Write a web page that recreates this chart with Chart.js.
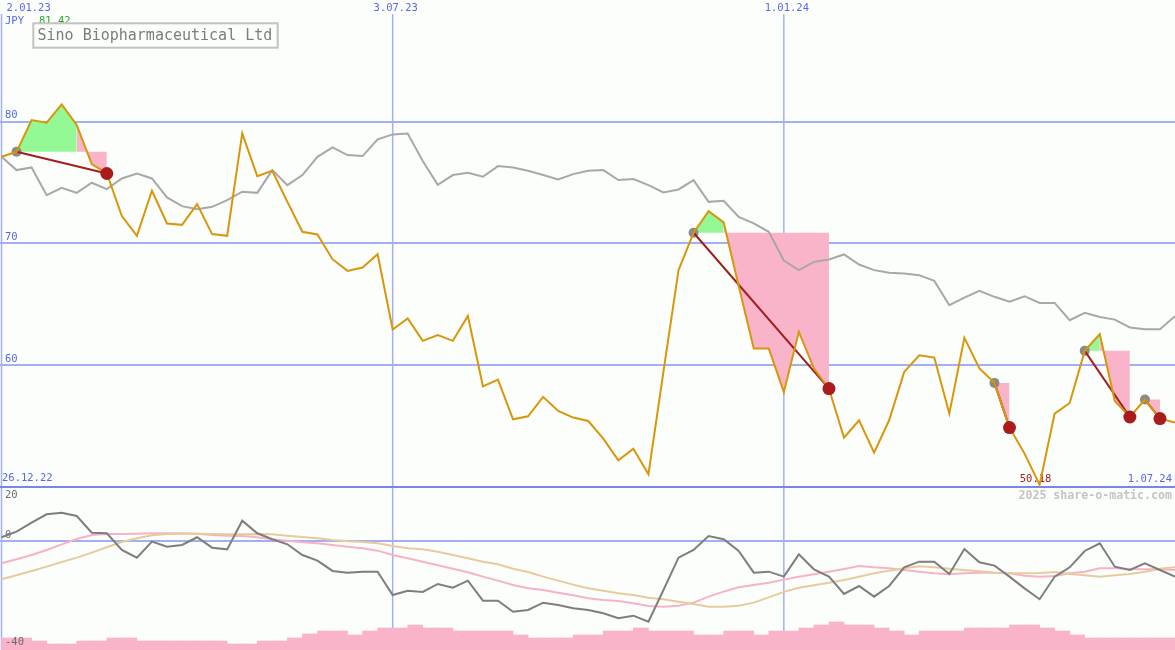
<!DOCTYPE html>
<html>
<head>
    <title>Sino Biopharmaceutical Ltd</title>
    <script src="https://cdn.jsdelivr.net/npm/chart.js"></script>
    <style>
        body {
            margin: 0;
            padding: 0;
            background-color: #fbfefb;
            overflow: hidden;
        }
        .chart-container {
            position: relative;
            width: 1175px;
            height: 650px;
        }
    </style>
</head>
<body>
    <div class="chart-container">
        <canvas id="shareChart" width="1175" height="650"></canvas>
    </div>

    <script>
        // weekly closes in JPY, week 0 = 2.01.23
        const price = [
            77.12, 77.53, 80.14, 79.92, 81.42, 79.73, 76.52, 75.75, 72.25, 70.63,
            74.33, 71.64, 71.53, 73.23, 70.77, 70.63, 79.04, 75.53, 75.97, 73.42,
            70.96, 70.74, 68.71, 67.75, 68.03, 69.12, 62.93, 63.84, 62.00, 62.47,
            62.00, 64.05, 58.27, 58.82, 55.56, 55.81, 57.40, 56.25, 55.70, 55.42,
            53.97, 52.19, 53.15, 51.04, 59.50, 67.81, 70.88, 72.66, 71.73, 66.50,
            61.37, 61.37, 57.81, 62.74, 59.73, 58.08, 54.05, 55.48, 52.82, 55.48,
            59.45, 60.82, 60.63, 56.03, 62.25, 59.73, 58.55, 54.88, 52.74, 50.18,
            56.03, 56.90, 61.18, 62.55, 57.07, 55.75, 57.18, 55.62, 55.29
        ];
        // relative strength line (grey)
        const relative = [
            77.12, 76.03, 76.25, 73.97, 74.58, 74.16, 74.99, 74.47, 75.34, 75.75,
            75.34, 73.78, 73.07, 72.82, 73.01, 73.56, 74.25, 74.16, 76.03, 74.79,
            75.62, 77.12, 77.89, 77.26, 77.18, 78.55, 78.96, 79.04, 76.77, 74.82,
            75.62, 75.81, 75.48, 76.36, 76.25, 75.97, 75.62, 75.26, 75.70, 75.97,
            76.03, 75.21, 75.29, 74.79, 74.19, 74.44, 75.21, 73.42, 73.51, 72.19,
            71.65, 70.96, 68.60, 67.81, 68.49, 68.68, 69.10, 68.27, 67.81, 67.59,
            67.53, 67.40, 66.93, 64.93, 65.56, 66.11, 65.62, 65.21, 65.67, 65.12,
            65.12, 63.70, 64.30, 63.97, 63.75, 63.10, 62.96, 62.96, 64.03
        ];
        // lower panel oscillators
        const momentum = [
            1.49, 3.55, 6.87, 9.94, 10.55, 9.33, 3.18, 2.96, -3.18, -6.01,
            -0.12, -1.96, -1.35, 1.49, -2.33, -2.95, 7.60, 2.96, 0.75, -1.09,
            -5.03, -7.12, -10.90, -11.53, -11.16, -11.16, -19.75, -18.17, -18.65, -15.70,
            -17.06, -14.48, -21.84, -21.84, -25.90, -25.27, -22.58, -23.43, -24.65, -25.27,
            -26.49, -28.33, -27.36, -29.57, -17.90, -6.01, -3.18, 1.97, 0.75, -3.55,
            -11.53, -11.16, -13.00, -4.78, -10.30, -13.00, -19.38, -16.44, -20.37, -16.44,
            -9.56, -7.49, -7.49, -12.00, -2.82, -7.72, -8.95, -13.00, -17.30, -21.30,
            -13.00, -9.56, -3.55, -0.72, -9.33, -10.55, -8.10, -10.55, -13.00
        ];
        const avgFast = [
            -8.09, -6.62, -5.03, -3.19, -1.10, 0.86, 2.33, 2.70, 2.70, 2.82,
            2.95, 2.95, 2.95, 2.82, 2.33, 2.09, 1.97, 1.48, 0.74, 0.25,
            -0.36, -0.73, -1.35, -1.96, -2.57, -3.43, -5.03, -6.25, -7.48, -8.83,
            -10.06, -11.41, -13.00, -14.47, -16.07, -17.29, -17.91, -18.89, -19.87, -20.98,
            -21.59, -21.96, -22.82, -23.80, -24.04, -23.68, -22.57, -20.36, -18.52, -16.93,
            -16.07, -15.21, -14.10, -13.00, -12.14, -11.16, -10.18, -9.08, -9.57, -9.93,
            -10.55, -11.16, -11.77, -12.14, -11.77, -11.53, -11.53, -11.77, -12.63, -13.00,
            -12.76, -11.77, -11.16, -9.93, -9.93, -10.18, -10.30, -10.30, -10.55
        ];
        const avgSlow = [
            -13.98, -12.51, -10.92, -9.32, -7.60, -6.01, -4.17, -2.20, -0.24, 1.11,
            2.21, 2.70, 2.82, 2.82, 2.70, 2.58, 2.58, 2.70, 2.58, 2.09,
            1.60, 1.11, 0.49, 0.00, -0.24, -0.73, -1.71, -2.57, -2.94, -3.80,
            -5.03, -6.25, -7.48, -8.46, -10.06, -11.28, -13.00, -14.47, -15.94, -17.29,
            -18.15, -19.13, -19.75, -20.73, -21.34, -22.20, -23.06, -24.04, -24.04, -23.68,
            -22.57, -20.61, -18.60, -17.10, -16.19, -15.21, -14.23, -13.00, -11.77, -10.79,
            -9.93, -9.20, -9.57, -10.06, -10.55, -11.04, -11.53, -11.77, -11.77, -11.65,
            -11.28, -12.02, -12.51, -13.00, -12.51, -12.02, -11.16, -10.06, -9.57
        ];
        // traded volume between consecutive weeks (relative units)
        const volume = [
            12, 12, 9, 6, 6, 9, 9, 12, 12, 9,
            9, 9, 9, 9, 9, 6, 6, 9, 9, 12,
            16, 19, 19, 15, 19, 22, 22, 25, 22, 22,
            19, 19, 19, 19, 15, 12, 12, 12, 15, 15,
            19, 19, 22, 19, 19, 19, 15, 15, 19, 19,
            15, 19, 19, 22, 25, 28, 25, 25, 22, 19,
            15, 19, 19, 19, 22, 22, 22, 25, 25, 22,
            19, 15, 12, 12, 12, 12, 12, 12
        ];

        const dateTicks = [0, 26, 52];
        const dateLabels = ['2.01.23', '3.07.23', '1.01.24'];
        const priceTicks = [80, 70, 60];
        const firstDate = '26.12.22';
        const lastDate = '1.07.24';

        // buy / sell signals (week index)
        const sigStart = [1, 46, 66, 72, 76];
        const sigTop = [5, 48, null, 73, null];
        const sigEnd = [7, 55, 67, 75, 77];

        const BLUE = '#5a66ee';
        const FONT = '"DejaVu Sans Mono", "Liberation Mono", monospace';

        const pts = arr => arr.map((v, i) => ({ x: i, y: v }));
        const pricePts = pts(price);

        function fillSet(a, b, level, color) {
            return {
                data: pricePts.slice(a, b + 1),
                fill: { value: level },
                backgroundColor: color,
                borderColor: 'rgba(0,0,0,0)',
                borderWidth: 0,
                pointRadius: 0,
                yAxisID: 'y',
                order: 5
            };
        }

        const fillSets = [];
        const signalLines = [];
        sigStart.forEach((s, k) => {
            const level = price[s];
            const top = sigTop[k];
            if (top !== null) fillSets.push(fillSet(s, top, level, '#94f894'));
            fillSets.push(fillSet(top !== null ? top : s, sigEnd[k], level, '#f9b4ca'));
            signalLines.push({
                data: [pricePts[s], pricePts[sigEnd[k]]],
                borderColor: '#a21e1e',
                borderWidth: 2,
                pointRadius: 0,
                yAxisID: 'y',
                order: 2
            });
        });

        const overlay = {
            id: 'overlay',
            beforeDraw(chart) {
                const ctx = chart.ctx;
                ctx.save();
                ctx.fillStyle = '#fbfefb';
                ctx.fillRect(0, 0, chart.width, chart.height);
                ctx.restore();
            },
            beforeDatasetsDraw(chart) {
                const { ctx, scales: { x, y, y2 } } = chart;
                const W = chart.width, H = chart.height;
                const line = (x1, y1, x2, y2_) => {
                    ctx.beginPath(); ctx.moveTo(x1, y1); ctx.lineTo(x2, y2_); ctx.stroke();
                };
                ctx.save();

                // horizontal grid
                ctx.strokeStyle = '#a2b0f2';
                ctx.lineWidth = 2;
                priceTicks.forEach(v => {
                    const py = Math.round(y.getPixelForValue(v));
                    line(0, py, W, py);
                });
                const zeroY = Math.round(y2.getPixelForValue(0));
                line(0, zeroY, W, zeroY);

                // vertical date lines
                ctx.lineWidth = 1.5;
                dateTicks.forEach(d => {
                    const px = x.getPixelForValue(d);
                    line(px, 14, px, H);
                });

                // panel divider
                const divY = Math.round(y.getPixelForValue(50));
                ctx.strokeStyle = '#7686ee';
                ctx.lineWidth = 2;
                line(0, divY, W, divY);

                // texts
                ctx.textBaseline = 'middle';
                ctx.font = '10.5px ' + FONT;
                ctx.fillStyle = BLUE;
                dateTicks.forEach((d, k) => {
                    const px = x.getPixelForValue(d);
                    if (k === 0) {
                        ctx.textAlign = 'left';
                        ctx.fillText(dateLabels[k], px + 5, 8);
                    } else {
                        ctx.textAlign = 'center';
                        ctx.fillText(dateLabels[k], px + 3, 8);
                    }
                });
                ctx.textAlign = 'left';
                ctx.fillText('JPY', 5, 21);
                priceTicks.forEach(v => {
                    ctx.fillText(String(v), 5, y.getPixelForValue(v) - 6);
                });
                ctx.fillText(firstDate, 2, divY - 9);
                ctx.textAlign = 'right';
                ctx.fillText(lastDate, W - 3, divY - 8);

                const maxV = Math.max(...price);
                ctx.textAlign = 'left';
                ctx.fillStyle = '#26a626';
                ctx.fillText(maxV.toFixed(2), 39, 21);

                const minV = Math.min(...price);
                const minI = price.indexOf(minV);
                ctx.textAlign = 'center';
                ctx.fillStyle = '#a02020';
                ctx.fillText(minV.toFixed(2), x.getPixelForValue(minI) - 4, divY - 8);

                ctx.textAlign = 'right';
                ctx.fillStyle = '#c4c4c4';
                ctx.font = 'bold 11.6px ' + FONT;
                ctx.fillText('2025 share-o-matic.com', W - 3, divY + 9);

                ctx.textAlign = 'left';
                ctx.fillStyle = '#6a6a6a';
                ctx.font = '10.5px ' + FONT;
                ctx.fillText('20', 5, divY + 8);
                ctx.fillText('0', 5, zeroY - 6);

                // title box
                ctx.strokeStyle = '#c2c2c2';
                ctx.lineWidth = 2;
                ctx.strokeRect(33.3, 23.3, 244.4, 24.4);
                ctx.fillStyle = '#7c7c7c';
                ctx.font = '15px ' + FONT;
                ctx.fillText('Sino Biopharmaceutical Ltd', 37.5, 36);

                ctx.restore();
            },
            afterDatasetsDraw(chart) {
                const ctx = chart.ctx;
                ctx.save();
                ctx.textBaseline = 'middle';
                ctx.textAlign = 'left';
                ctx.fillStyle = '#6a6a6a';
                ctx.font = '10.5px ' + FONT;
                ctx.fillText('-40', 5, chart.height - 8);
                ctx.restore();
            }
        };

        const ctx = document.getElementById('shareChart').getContext('2d');
        new Chart(ctx, {
            type: 'line',
            data: {
                datasets: [
                    {
                        // sell points
                        data: sigEnd.map(i => pricePts[i]),
                        showLine: false,
                        pointRadius: 6.5,
                        pointBackgroundColor: '#a81c1c',
                        pointBorderWidth: 0,
                        yAxisID: 'y',
                        order: 0
                    },
                    {
                        data: pricePts,
                        borderColor: '#d8960c',
                        borderWidth: 2,
                        pointRadius: 0,
                        tension: 0,
                        yAxisID: 'y',
                        order: 1
                    },
                    ...signalLines,
                    {
                        // buy points
                        data: sigStart.map(i => pricePts[i]),
                        showLine: false,
                        pointRadius: 5,
                        pointBackgroundColor: '#8a8a8a',
                        pointBorderWidth: 0,
                        yAxisID: 'y',
                        order: 3
                    },
                    {
                        data: pts(relative),
                        borderColor: '#a8a8a8',
                        borderWidth: 2,
                        pointRadius: 0,
                        yAxisID: 'y',
                        order: 4
                    },
                    ...fillSets,
                    {
                        data: pts(momentum),
                        borderColor: '#7e7e7e',
                        borderWidth: 2,
                        pointRadius: 0,
                        yAxisID: 'y2',
                        order: 6
                    },
                    {
                        data: pts(avgSlow),
                        borderColor: '#e6cc9c',
                        borderWidth: 2,
                        pointRadius: 0,
                        yAxisID: 'y2',
                        order: 7
                    },
                    {
                        data: pts(avgFast),
                        borderColor: '#f8b2c8',
                        borderWidth: 2,
                        pointRadius: 0,
                        yAxisID: 'y2',
                        order: 8
                    },
                    {
                        type: 'bar',
                        data: volume.map((v, i) => ({ x: i + 0.5, y: v })),
                        backgroundColor: '#f9b4ca',
                        borderWidth: 0,
                        barPercentage: 1,
                        categoryPercentage: 1,
                        grouped: false,
                        yAxisID: 'yv',
                        order: 9
                    }
                ]
            },
            options: {
                responsive: false,
                animation: false,
                events: [],
                layout: { autoPadding: false, padding: 0 },
                scales: {
                    x: { type: 'linear', min: -0.1, max: 78, offset: false, display: false },
                    // upper panel: 90 at top, 50 at the divider
                    y: { type: 'linear', min: 36.61, max: 90, display: false },
                    // lower panel: 20 at divider, -40 at bottom
                    y2: { type: 'linear', min: -40, max: 199.26, display: false },
                    yv: { type: 'linear', min: 0, max: 650, display: false }
                },
                plugins: {
                    legend: { display: false },
                    title: { display: false },
                    tooltip: { enabled: false }
                }
            },
            plugins: [overlay]
        });
    </script>
</body>
</html>
